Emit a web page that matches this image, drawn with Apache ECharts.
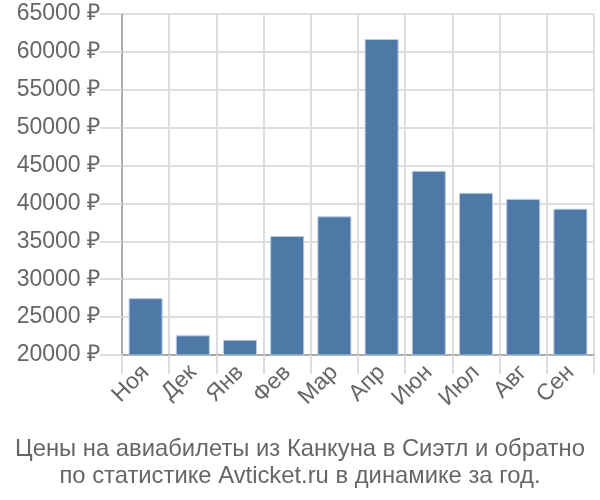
<!DOCTYPE html>
<html><head><meta charset="utf-8">
<script src="https://cdn.jsdelivr.net/npm/echarts@6/dist/echarts.min.js"></script>
<style>html,body{margin:0;padding:0;background:#fff}#c{width:600px;height:500px}</style>
</head><body><div id="c"></div>
<script>
var categories = ['Ноя','Дек','Янв','Фев','Мар','Апр','Июн','Июл','Авг','Сен'];
var prices = [27500, 22600, 22000, 35700, 38300, 61700, 44300, 41400, 40600, 39300];
var yTicks = {min: 20000, max: 65000, step: 5000};
var titleText = 'Цены на авиабилеты из Канкуна в Сиэтл и обратно\nпо статистике Avticket.ru в динамике за год.';

var chart = echarts.init(document.getElementById('c'), null, {renderer: 'canvas'});
var font = 'Liberation Sans, Arial, sans-serif';
chart.setOption({
  animation: false,
  title: {
    text: titleText, left: 'center', top: 431,
    textStyle: {fontFamily: font, fontSize: 23.8, fontWeight: 'normal', color: '#666', lineHeight: 27}
  },
  grid: {left: 122, right: 6, top: 14, bottom: 145, containLabel: false},
  xAxis: {
    type: 'category', data: categories, boundaryGap: true,
    axisLine: {lineStyle: {color: '#aaa', width: 2}},
    axisTick: {show: true, length: 19, lineStyle: {color: '#ddd', width: 2}},
    splitLine: {show: true, lineStyle: {color: '#ddd', width: 2}},
    axisLabel: {rotate: 45, margin: 14, fontFamily: font, fontSize: 23, color: '#666'}
  },
  yAxis: {
    type: 'value', min: yTicks.min, max: yTicks.max, interval: yTicks.step,
    axisLine: {show: true, lineStyle: {color: '#aaa', width: 2}},
    axisTick: {show: true, length: 22, lineStyle: {color: '#ddd', width: 2}},
    splitLine: {show: true, lineStyle: {color: '#ddd', width: 2}},
    axisLabel: {margin: 22, fontFamily: font, fontSize: 23, color: '#666',
      formatter: function (v) { return v + ' ₽'; }}
  },
  series: [{
    type: 'bar', data: prices, barWidth: 34,
    itemStyle: {color: '#4e79a7', borderColor: '#b8cbe0', borderWidth: 1}
  }]
});
</script></body></html>
